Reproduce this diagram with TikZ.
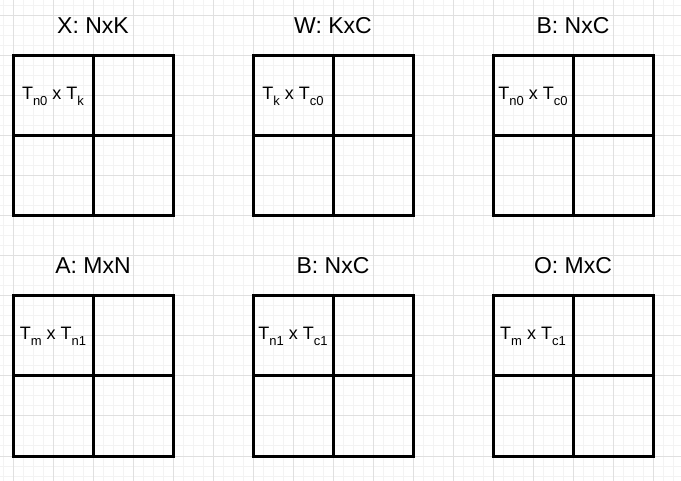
\documentclass[tikz,border=0pt]{standalone}
\usepackage{fontspec}
\setmainfont{Liberation Sans}
\newcommand{\subtxt}[1]{\raisebox{-6pt}{\fontsize{13}{15}\selectfont #1}}
\begin{document}
\begin{tikzpicture}[x=1pt,y=-1pt,
  cell/.style={draw=black, line width=3pt, minimum width=80pt, minimum height=80pt, inner sep=0pt, outer sep=0pt, anchor=north west, font=\fontsize{18}{21}\selectfont},
  title/.style={font=\fontsize{23}{27}\selectfont, inner sep=0pt},
  minorgrid/.style={draw={rgb,255:red,243;green,243;blue,243}, line width=1pt},
  majorgrid/.style={draw={rgb,255:red,224;green,224;blue,224}, line width=1pt}]
\useasboundingbox (0,0) rectangle (681,481);
\fill[white] (0,0) rectangle (681,481);
% background grid
\foreach \x in {3,13,...,681} \draw[minorgrid] (\x,0) -- (\x,481);
\foreach \y in {6,16,...,481} \draw[minorgrid] (0,\y) -- (681,\y);
\foreach \x in {13,53,...,681} \draw[majorgrid] (\x,0) -- (\x,481);
\foreach \y in {16,56,...,481} \draw[majorgrid] (0,\y) -- (681,\y);
% matrices
\foreach \x/\y/\n/\t/\l in {
  13/56/x/{X: NxK}/{T\subtxt{n0} x T\subtxt{k}},
  253/56/w/{W: KxC}/{T\subtxt{k} x T\subtxt{c0}},
  493/56/b/{B: NxC}/{T\subtxt{n0} x T\subtxt{c0}},
  13/296/a/{A: MxN}/{T\subtxt{m} x T\subtxt{n1}},
  253/296/bb/{B: NxC}/{T\subtxt{n1} x T\subtxt{c1}},
  493/296/o/{O: MxC}/{T\subtxt{m} x T\subtxt{c1}}}{
  \node[title] (\n-title) at (\x+80,\y-30) {\t};
  \node[cell] (\n-11) at (\x,\y) {\l};
  \node[cell] (\n-12) at (\x+80,\y) {};
  \node[cell] (\n-21) at (\x,\y+80) {};
  \node[cell] (\n-22) at (\x+80,\y+80) {};
}
\end{tikzpicture}
\end{document}
